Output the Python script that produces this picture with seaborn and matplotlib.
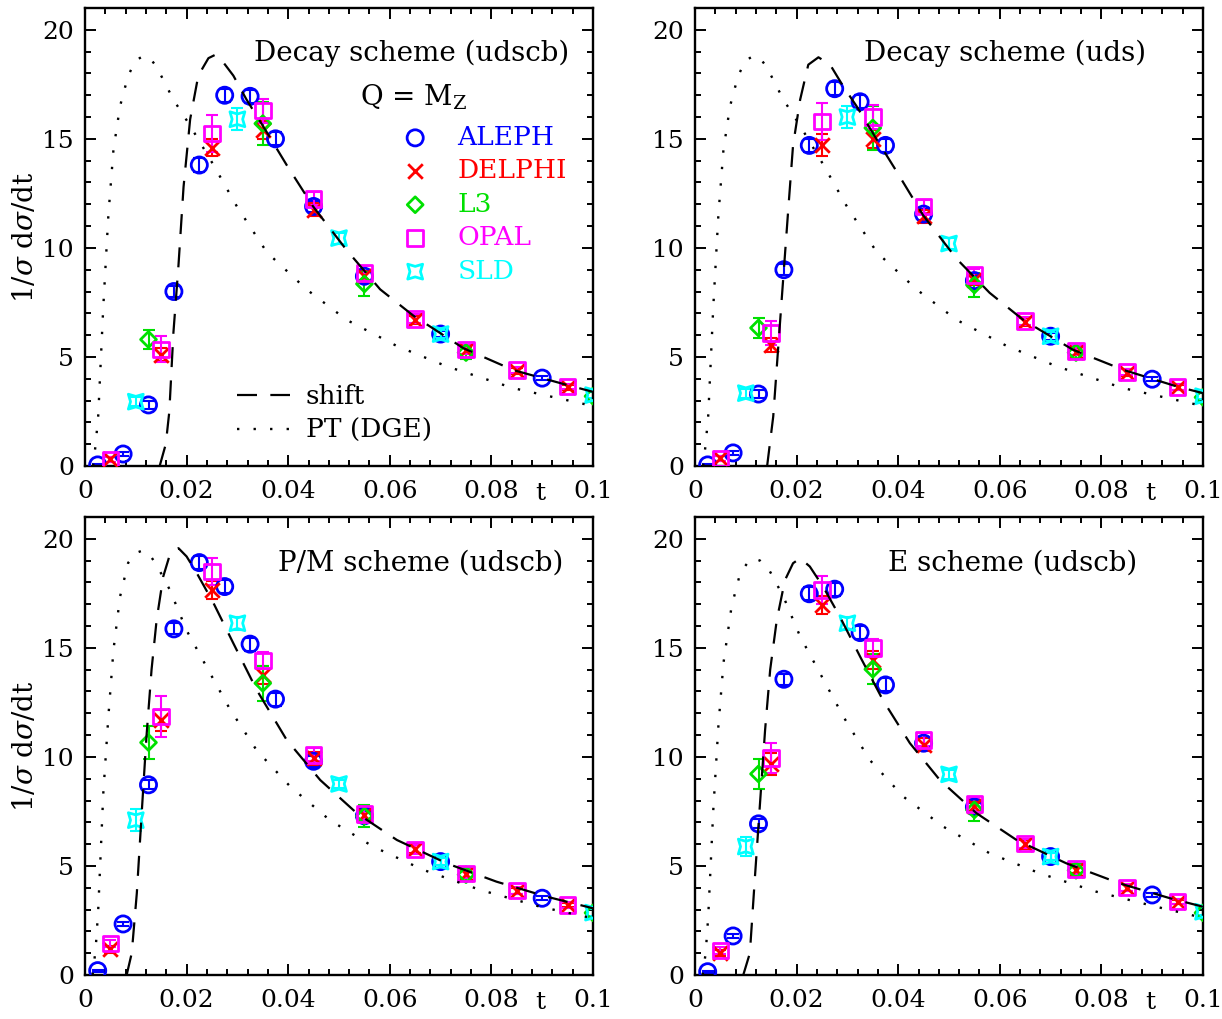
# thrust-like t distributions, four schemes, LEP/SLD data vs. shift model and PT (DGE)

import numpy as np
import pandas as pd
import seaborn as sns
import matplotlib
matplotlib.use("Agg")
import matplotlib.pyplot as plt
from matplotlib.ticker import MultipleLocator

# bin centres per experiment
t_aleph = [0.0025, 0.0075, 0.0125, 0.0175, 0.0225, 0.0275, 0.0325, 0.0375, 0.045, 0.055, 0.07, 0.09]
t_delphi = [0.005, 0.015, 0.025, 0.035, 0.045, 0.055, 0.065, 0.075, 0.085, 0.095]
t_l3 = [0.0125, 0.035, 0.055, 0.075, 0.1]
t_opal = [0.005, 0.015, 0.025, 0.035, 0.045, 0.055, 0.065, 0.075, 0.085, 0.095]
t_sld = [0.01, 0.03, 0.05, 0.07, 0.1]

aleph_err = [0.05, 0.1, 0.2, 0.25, 0.3, 0.3, 0.3, 0.3, 0.25, 0.2, 0.15, 0.1]

# Decay scheme (udscb)
aleph_dec5 = [0.05, 0.55, 2.8, 8.0, 13.8, 17.0, 16.95, 15.0, 11.9, 8.7, 6.05, 4.03]
delphi_dec5 = [0.3, 5.1, 14.6, 15.4, 11.75, 8.7, 6.7, 5.3, 4.35, 3.6]
delphi_err_dec5 = [0.1, 0.3, 0.4, 0.4, 0.3, 0.25, 0.2, 0.15, 0.15, 0.1]
l3_dec5 = [5.8, 15.7, 8.35, 5.2, 3.2]
l3_err_dec5 = [0.45, 1.0, 0.55, 0.3, 0.2]
opal_dec5 = [0.3, 5.35, 15.25, 16.3, 12.25, 8.85, 6.75, 5.35, 4.4, 3.65]
opal_err_dec5 = [0.1, 0.6, 0.85, 0.55, 0.3, 0.3, 0.2, 0.2, 0.15, 0.12]
sld_dec5 = [2.95, 15.9, 10.45, 6.05, 3.25]
sld_err_dec5 = [0.2, 0.5, 0.25, 0.2, 0.15]

# Decay scheme (uds)
aleph_dec3 = [0.05, 0.6, 3.3, 9.0, 14.7, 17.3, 16.7, 14.7, 11.55, 8.5, 5.95, 3.98]
delphi_dec3 = [0.35, 5.55, 14.7, 15.0, 11.45, 8.55, 6.6, 5.25, 4.28, 3.6]
delphi_err_dec3 = [0.1, 0.3, 0.5, 0.4, 0.3, 0.25, 0.2, 0.15, 0.15, 0.1]
l3_dec3 = [6.33, 15.5, 8.3, 5.2, 3.15]
l3_err_dec3 = [0.45, 1.0, 0.55, 0.3, 0.2]
opal_dec3 = [0.35, 6.1, 15.8, 16.0, 11.9, 8.75, 6.65, 5.28, 4.3, 3.62]
opal_err_dec3 = [0.1, 0.55, 0.85, 0.55, 0.3, 0.3, 0.2, 0.2, 0.15, 0.12]
sld_dec3 = [3.34, 16.0, 10.2, 5.95, 3.2]
sld_err_dec3 = [0.2, 0.5, 0.25, 0.2, 0.15]

# P/M scheme (udscb)
aleph_pm = [0.2, 2.34, 8.72, 15.87, 18.91, 17.81, 15.17, 12.65, 9.8, 7.3, 5.2, 3.52]
delphi_pm = [1.18, 11.67, 17.66, 13.76, 9.94, 7.35, 5.8, 4.62, 3.85, 3.2]
delphi_err_pm = [0.15, 0.5, 0.4, 0.4, 0.3, 0.25, 0.2, 0.15, 0.15, 0.1]
l3_pm = [10.66, 13.38, 7.29, 4.6, 2.85]
l3_err_pm = [0.77, 0.8, 0.5, 0.3, 0.2]
opal_pm = [1.45, 11.85, 18.5, 14.42, 10.09, 7.39, 5.75, 4.66, 3.87, 3.21]
opal_err_pm = [0.15, 0.92, 0.6, 0.4, 0.3, 0.3, 0.2, 0.2, 0.15, 0.12]
sld_pm = [7.1, 16.13, 8.76, 5.2, 2.86]
sld_err_pm = [0.5, 0.3, 0.2, 0.15, 0.15]

# E scheme (udscb)
aleph_e = [0.15, 1.79, 6.93, 13.56, 17.48, 17.69, 15.70, 13.3, 10.63, 7.7, 5.43, 3.67]
delphi_e = [1.0, 9.68, 16.97, 14.45, 10.56, 7.75, 6.0, 4.82, 4.0, 3.35]
delphi_err_e = [0.15, 0.5, 0.4, 0.4, 0.3, 0.25, 0.2, 0.15, 0.15, 0.1]
l3_e = [9.22, 14.02, 7.57, 4.8, 2.85]
l3_err_e = [0.7, 0.7, 0.5, 0.3, 0.2]
opal_e = [1.12, 9.94, 17.66, 14.99, 10.78, 7.83, 6.04, 4.85, 4.02, 3.36]
opal_err_e = [0.15, 0.7, 0.65, 0.4, 0.3, 0.3, 0.2, 0.2, 0.15, 0.12]
sld_e = [5.89, 16.13, 9.2, 5.43, 2.9]
sld_err_e = [0.45, 0.3, 0.2, 0.15, 0.15]

# curves
pt_dec_t = [0.0016, 0.0021, 0.0026, 0.0031, 0.0036, 0.0046, 0.0056, 0.0069, 0.0085, 0.010, 0.0115,
            0.0128, 0.0141, 0.0174, 0.0207, 0.0253, 0.0299, 0.0358, 0.0436, 0.0515, 0.0614, 0.0712,
            0.0843, 0.1]
pt_dec_y = [0.0, 1.0, 2.3, 4.8, 7.3, 11.5, 14.5, 16.5, 17.9, 18.6, 18.8,
            18.7, 18.3, 16.8, 15.6, 13.8, 11.9, 9.8, 8.1, 6.7, 5.5, 4.57,
            3.57, 2.75]

shift_dec5_t = [0.0147, 0.0159, 0.0166, 0.0174, 0.0184, 0.0194, 0.0207, 0.0223, 0.0243, 0.0256,
                0.0266, 0.0292, 0.0318, 0.0358, 0.0397, 0.0449, 0.0515, 0.0581, 0.0646, 0.0745,
                0.0843, 0.0948, 0.1]
shift_dec5_y = [0.0, 1.0, 2.5, 6.1, 9.2, 12.8, 15.9, 17.9, 18.7, 18.85,
                18.7, 17.9, 16.8, 15.3, 13.8, 11.9, 9.9, 8.1, 6.9, 5.4,
                4.4, 3.72, 3.4]

shift_dec3_t = [0.0142, 0.0154, 0.0164, 0.0174, 0.0184, 0.0193, 0.0207, 0.0223, 0.0243, 0.0266,
                0.0292, 0.0318, 0.0357, 0.0397, 0.0449, 0.0515, 0.058, 0.0646, 0.0744, 0.0843,
                0.0948, 0.1]
shift_dec3_y = [0.0, 2.27, 5.5, 8.7, 11.9, 14.7, 16.8, 18.4, 18.74, 18.4,
                17.4, 16.5, 15.0, 13.5, 11.5, 9.5, 7.94, 6.7, 5.33, 4.41,
                3.65, 3.34]

pt_pm_t = [0.0015, 0.0021, 0.0026, 0.0036, 0.0046, 0.0056, 0.0069, 0.0085, 0.010, 0.0112, 0.0125,
           0.0141, 0.0167, 0.020, 0.024, 0.0285, 0.0338, 0.0404, 0.0482, 0.0567, 0.0666, 0.0778,
           0.0896, 0.1]
pt_pm_y = [0.0, 1.2, 2.98, 8.33, 11.85, 14.9, 17.35, 18.9, 19.35, 19.45, 19.35,
           18.8, 17.66, 15.8, 14.1, 12.2, 10.3, 8.64, 7.1, 5.89, 4.82, 3.9,
           3.13, 2.6]

shift_pm_t = [0.0082, 0.0092, 0.0102, 0.0112, 0.0121, 0.0131, 0.0141, 0.0154, 0.0167, 0.0184,
              0.020, 0.022, 0.0253, 0.0292, 0.0338, 0.0397, 0.0463, 0.0535, 0.0614, 0.0712,
              0.081, 0.0909, 0.1]
shift_pm_y = [0.0, 1.0, 3.75, 7.57, 10.93, 14.0, 16.28, 18.27, 19.27, 19.57,
              19.19, 18.43, 17.05, 15.21, 13.07, 10.78, 8.94, 7.42, 6.19, 5.12,
              4.28, 3.59, 3.06]

pt_e_t = [0.0015, 0.0021, 0.0026, 0.0036, 0.0046, 0.0056, 0.0072, 0.0089, 0.0105, 0.0115, 0.0128,
          0.0144, 0.0174, 0.0207, 0.0246, 0.0292, 0.0344, 0.041, 0.0489, 0.058, 0.0679, 0.079,
          0.0908, 0.1]
pt_e_y = [0.0, 1.0, 2.67, 7.57, 11.4, 14.3, 16.9, 18.43, 18.95, 19.1, 19.0,
          18.66, 17.35, 15.52, 13.84, 11.85, 9.86, 8.18, 6.8, 5.58, 4.66, 3.82,
          3.13, 2.62]

shift_e_t = [0.0095, 0.0108, 0.0118, 0.0128, 0.0138, 0.0148, 0.0161, 0.0177, 0.0193, 0.0207,
             0.0226, 0.0252, 0.0285, 0.0325, 0.037, 0.0423, 0.0482, 0.0554, 0.0633, 0.0731,
             0.0836, 0.0935, 0.1]
shift_e_y = [0.0, 1.0, 4.5, 7.88, 11.24, 14.0, 16.28, 18.1, 18.88, 19.11,
             18.73, 17.81, 16.44, 14.6, 12.6, 10.63, 8.94, 7.42, 6.19, 5.12,
             4.2, 3.52, 3.13]

titles = ["Decay scheme (udscb)", "Decay scheme (uds)", "P/M scheme (udscb)", "E scheme (udscb)"]
experiments = ["ALEPH", "DELPHI", "L3", "OPAL", "SLD"]
exp_colors = ["#0000ff", "#ff0000", "#00e000", "#ff00ff", "#00ffff"]
xticks = [0, 0.02, 0.04, 0.06, 0.08, 0.1]
xtick_labels = ["0", "0.02", "0.04", "0.06", "0.08", "0.1"]
yticks = [0, 5, 10, 15, 20]


def exp_table(aleph, delphi, delphi_err, l3, l3_err, opal, opal_err, sld, sld_err):
    '''
    One row per experiment: t, y, err
    '''
    return [(t_aleph, aleph, aleph_err), (t_delphi, delphi, delphi_err), (t_l3, l3, l3_err),
            (t_opal, opal, opal_err), (t_sld, sld, sld_err)]


panels = [
    (exp_table(aleph_dec5, delphi_dec5, delphi_err_dec5, l3_dec5, l3_err_dec5, opal_dec5,
               opal_err_dec5, sld_dec5, sld_err_dec5), shift_dec5_t, shift_dec5_y, pt_dec_t, pt_dec_y),
    (exp_table(aleph_dec3, delphi_dec3, delphi_err_dec3, l3_dec3, l3_err_dec3, opal_dec3,
               opal_err_dec3, sld_dec3, sld_err_dec3), shift_dec3_t, shift_dec3_y, pt_dec_t, pt_dec_y),
    (exp_table(aleph_pm, delphi_pm, delphi_err_pm, l3_pm, l3_err_pm, opal_pm,
               opal_err_pm, sld_pm, sld_err_pm), shift_pm_t, shift_pm_y, pt_pm_t, pt_pm_y),
    (exp_table(aleph_e, delphi_e, delphi_err_e, l3_e, l3_err_e, opal_e,
               opal_err_e, sld_e, sld_err_e), shift_e_t, shift_e_y, pt_e_t, pt_e_y),
]

markers = ["o", "x", "D", "s", (4, 1, 45)]
marker_sizes = [135, 110, 65, 125, 230]

sns.set_theme(style="ticks")
plt.rcParams['font.family'] = ['DejaVu Serif']
plt.rcParams['mathtext.fontset'] = 'dejavuserif'
for key in ['text.color', 'axes.labelcolor', 'axes.edgecolor', 'xtick.color', 'ytick.color']:
    plt.rcParams[key] = 'black'

fig = plt.figure(figsize=(12.22, 10.19), dpi=100)
W, H = 1222.0, 1019.0
rects = [(85, 8), (695, 8), (85, 517), (695, 517)]
title_x = [0.332, 0.332, 0.38, 0.38]

for i, (rows, sh_t, sh_y, pt_t, pt_y) in enumerate(panels):
    left, top = rects[i]
    ax = fig.add_axes([left / W, 1 - (top + 458) / H, 508 / W, 458 / H])

    scat = []
    for (t, y, err), name, col, mk, sz in zip(rows, experiments, exp_colors, markers, marker_sizes):
        ax.errorbar(t, y, yerr=err, fmt='none', ecolor=col, elinewidth=1.5,
                    capsize=4, capthick=1.5, zorder=2)
        if mk == "x":
            sns.scatterplot(x=t, y=y, ax=ax, marker=mk, s=sz, color=col,
                            linewidth=2.0, label=name, legend=False, zorder=3)
        else:
            sns.scatterplot(x=t, y=y, ax=ax, marker=mk, s=sz, facecolors='none',
                            edgecolor=col, linewidth=2.0, label=name, legend=False, zorder=3)
        scat.append(ax.collections[-1])

    sns.lineplot(x=sh_t, y=sh_y, ax=ax, color='black', lw=1.6, linestyle=(0, (9, 6)),
                 label="shift", legend=False, zorder=4)
    shift_line = ax.lines[-1]
    sns.lineplot(x=pt_t, y=pt_y, ax=ax, color='black', lw=1.7, linestyle=(0, (1, 6)),
                 label="PT (DGE)", legend=False, zorder=4)
    pt_line = ax.lines[-1]

    ax.set_xlim(0, 0.1)
    ax.set_ylim(0, 21)
    ax.set_xticks(xticks, xtick_labels)
    ax.set_yticks(yticks)
    ax.xaxis.set_minor_locator(MultipleLocator(0.004))
    ax.yaxis.set_minor_locator(MultipleLocator(1))
    ax.tick_params(which='both', direction='in', top=True, right=True, width=1.4, labelsize=18)
    ax.tick_params(which='major', length=8)
    ax.tick_params(which='minor', length=4)
    ax.tick_params(axis='x', pad=10)
    ax.tick_params(axis='y', pad=8)
    for sp in ax.spines.values():
        sp.set_linewidth(1.7)

    ax.set_xlabel("t", fontsize=18)
    ax.xaxis.set_label_coords(0.896, -0.035)
    if i % 2 == 0:
        ax.set_ylabel(r"1/$\sigma$ d$\sigma$/dt", fontsize=20, labelpad=2)
    else:
        ax.set_ylabel("")

    ax.text(title_x[i], 0.90, titles[i], transform=ax.transAxes, fontsize=20,
            ha='left', va='center')

    if i == 0:
        ax.text(0.541, 0.806, r"Q = M$_{\rm Z}$", transform=ax.transAxes, fontsize=20,
                ha='left', va='center')
        leg1 = ax.legend(scat, experiments, loc='upper left', bbox_to_anchor=(0.624, 0.745),
                         frameon=False, fontsize=19, scatterpoints=1, handlelength=1.0,
                         handletextpad=1.1, labelspacing=0.32, borderpad=0, borderaxespad=0,
                         labelcolor=exp_colors)
        ax.add_artist(leg1)
        ax.legend([shift_line, pt_line], ["shift", "PT (DGE)"], loc='upper left',
                  bbox_to_anchor=(0.299, 0.178), frameon=False, fontsize=19,
                  handlelength=2.0, handletextpad=0.6, labelspacing=0.32,
                  borderpad=0, borderaxespad=0)

fig.savefig("out.png", dpi=100)
